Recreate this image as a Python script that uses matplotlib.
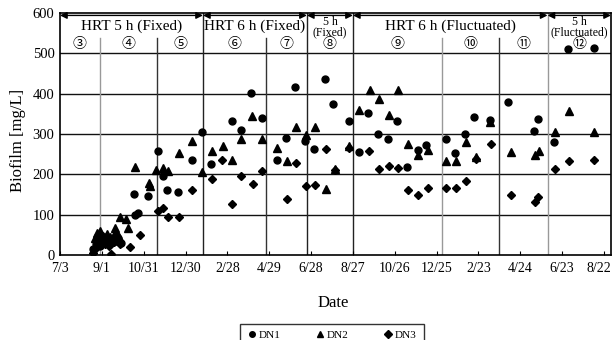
import matplotlib
matplotlib.use("Agg")
import matplotlib.pyplot as plt
import matplotlib.transforms as mtransforms

plt.rcParams['font.family'] = ['Liberation Serif', 'Noto Sans CJK JP', 'DejaVu Sans']

# x values are days since 7/3 of the first year
tick_days = [0, 60, 120, 180, 240, 300, 360, 420, 480, 540, 600, 660, 720, 780]
tick_labels = ['7/3', '9/1', '10/31', '12/30', '2/28', '4/29', '6/28', '8/27',
               '10/26', '12/25', '2/23', '4/24', '6/23', '8/22']

dn1_day = [48, 52, 55, 58, 60, 63, 66, 69, 72, 75, 79, 83, 88,
           106, 108, 112, 126, 140, 147, 154, 169, 189, 203, 216, 247, 259,
           274, 289, 311, 324, 337, 351, 364, 380, 392, 414, 429, 442, 456,
           470, 483, 497, 513, 525, 553, 567, 580, 594, 617, 643, 680, 686,
           708, 728, 765]
dn1_val = [15, 28, 38, 22, 35, 45, 30, 40, 32, 38, 35, 42, 30,
           151, 100, 103, 147, 259, 196, 161, 157, 236, 304, 226, 333, 310,
           401, 340, 236, 291, 416, 283, 262, 437, 375, 331, 256, 353, 299,
           287, 333, 219, 261, 273, 287, 252, 300, 342, 335, 380, 308, 337,
           280, 510, 513]

dn2_day = [50, 53, 56, 57, 59, 62, 65, 68, 71, 74, 77, 79, 80, 84, 86, 94, 98,
           107, 128, 129, 138, 148, 155, 170, 189, 203, 218, 233, 247, 260,
           275, 290, 311, 325, 338, 352, 365, 381, 394, 414, 429, 444, 457,
           471, 484, 499, 513, 527, 554, 568, 582, 597, 617, 646, 681, 687,
           709, 730, 766]
dn2_val = [42, 55, 35, 60, 48, 48, 40, 52, 45, 38, 50, 68, 58, 45, 95, 89, 67,
           218, 178, 170, 211, 216, 208, 253, 283, 207, 258, 270, 236, 288,
           345, 287, 265, 232, 318, 298, 318, 163, 213, 270, 360, 409, 387,
           347, 409, 275, 248, 261, 232, 233, 279, 244, 330, 256, 248, 258,
           306, 356, 304]

dn3_day = [48, 52, 55, 58, 61, 64, 67, 70, 73, 77, 82, 86,
           100, 115, 141, 148, 155, 170, 189, 218, 232, 247, 260, 276, 290,
           325, 339, 352, 365, 381, 394, 415, 443, 458, 472, 484, 499, 513,
           527, 554, 568, 582, 597, 618, 646, 681, 686, 709, 730, 766]
dn3_val = [5, 18, 30, 25, 38, 28, 35, 22, 3, 32, 40, 28,
           21, 50, 109, 117, 94, 94, 161, 189, 236, 126, 196, 176, 208,
           138, 229, 170, 174, 262, 211, 265, 258, 213, 221, 215, 160, 149,
           165, 165, 165, 184, 238, 275, 149, 131, 143, 213, 234, 236]

# phase annotation
phase_bounds = [0, 205, 354, 420, 699, 790]
phase_labels = ['HRT 5 h (Fixed)', 'HRT 6 h (Fixed)', '5 h\n(Fixed)',
                'HRT 6 h (Fluctuated)', '5 h\n(Fluctuated)']
sub_bounds = [0, 57, 139, 205, 296, 354, 420, 547, 629, 699, 790]
sub_labels = ['③', '④', '⑤', '⑥', '⑦', '⑧', '⑨', '⑩', '⑪', '⑫']

fig = plt.figure(figsize=(6.14, 3.40), dpi=100)
ax = fig.add_axes([60/614, 1-255/340, 551/614, 242/340])

ax.set_xlim(0, 790)
ax.set_ylim(0, 600)

# horizontal grid
for yv in [100, 200, 300, 400, 500]:
    ax.axhline(yv, color='#111111', lw=1.0, zorder=1)

# vertical separators
phase_inner = phase_bounds[1:-1]
for b in sub_bounds[1:-1]:
    if b in phase_inner:
        col = '#999999' if b == 699 else '#222222'
        ax.axvline(b, color=col, lw=1.0, zorder=1)
    else:
        col = '#999999' if b in (57, 547) else '#333333'
        ax.plot([b, b], [0, 538], color=col, lw=1.0, zorder=1)

ms = dict(color='black', linestyle='none', zorder=3)
ax.plot(dn1_day, dn1_val, marker='o', markersize=5, label='DN1', **ms)
ax.plot(dn2_day, dn2_val, marker='^', markersize=6, label='DN2', **ms)
ax.plot(dn3_day, dn3_val, marker='D', markersize=4.5, label='DN3', **ms)

# phase arrows and labels
for i, lab in enumerate(phase_labels):
    x0, x1 = phase_bounds[i], phase_bounds[i+1]
    ax.annotate('', xy=(x0, 594), xytext=(x1, 594),
                arrowprops=dict(arrowstyle='<|-|>', color='black', lw=1.0,
                                mutation_scale=10, shrinkA=0, shrinkB=0))
    xc = (x0 + x1) / 2
    if '\n' in lab:
        ax.text(xc, 564, lab, ha='center', va='center', fontsize=8.5,
                linespacing=0.8)
    else:
        ax.text(xc, 566, lab, ha='center', va='center', fontsize=11)

for i, lab in enumerate(sub_labels):
    xc = (sub_bounds[i] + sub_bounds[i+1]) / 2
    ax.text(xc, 522, lab, ha='center', va='center', fontsize=10)

ax.set_xticks(tick_days)
ax.set_xticklabels(tick_labels)
ax.set_yticks([0, 100, 200, 300, 400, 500, 600])
ax.tick_params(axis='x', direction='in', length=3, labelsize=10, pad=5)
ax.tick_params(axis='y', length=0, labelsize=10.5, pad=4)
for s in ax.spines.values():
    s.set_linewidth(1.2)

# nudge last tick label so it stays inside the figure
last = ax.get_xticklabels()[-1]
last.set_transform(last.get_transform() +
                   mtransforms.ScaledTranslation(-5/100, 0, fig.dpi_scale_trans))

fig.text(333/614, 1-303/340, 'Date', ha='center', va='center', fontsize=12)
fig.text(18/614, 1-140/340, 'Biofilm [mg/L]', ha='center', va='center',
         rotation=90, fontsize=12)

leg = fig.legend(loc='upper center', bbox_to_anchor=(332/614, 1-318/340),
                 ncol=3, fontsize=8, frameon=True, fancybox=False,
                 edgecolor='black', handlelength=0.8, handletextpad=0.2,
                 columnspacing=3.2, markerscale=0.8, borderpad=0.6)
leg.get_frame().set_linewidth(1.0)

fig.savefig('out.png', dpi=100)
